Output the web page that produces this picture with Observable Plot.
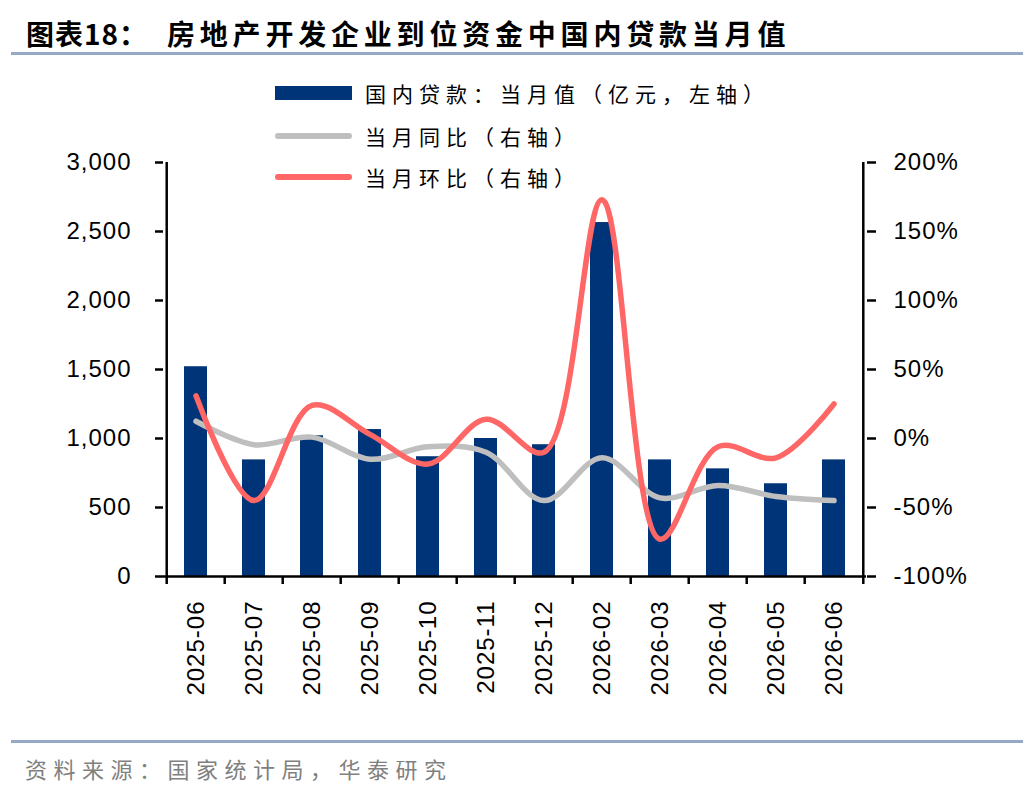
<!DOCTYPE html>
<html>
<head>
<meta charset="utf-8">
<script src="https://cdn.jsdelivr.net/npm/d3@7"></script>
<script src="https://cdn.jsdelivr.net/npm/@observablehq/plot@0.6"></script>
<style>
  html, body { margin: 0; padding: 0; background: #fff; }
  #page { position: relative; width: 1036px; height: 792px; overflow: hidden; background: #fff; }
  .abs { position: absolute; white-space: nowrap; }
  .title { font-family: "Noto Sans CJK SC", sans-serif; font-weight: 700; font-size: 28px; line-height: 28px; letter-spacing: 4.8px; color: #000; }
  .rule { position: absolute; left: 11px; width: 1012px; height: 3px; background: #93A9C5; }
  .legtext { font-family: "Noto Sans CJK SC", sans-serif; font-size: 21px; line-height: 21px; letter-spacing: 6px; color: #000; }
  .footer { font-family: "Noto Sans CJK SC", sans-serif; font-size: 22px; line-height: 22px; letter-spacing: 6.5px; color: #808080; }
  #chart { position: absolute; left: 0; top: 140px; }
  #chart svg text { letter-spacing: 1px; }
  #chart svg g[aria-label$="tick"] { stroke: #000 !important; stroke-width: 2.5px !important; stroke-opacity: 1 !important; }
</style>
</head>
<body>
<div id="page">
  <div class="abs title" style="left:26px; top:19px; letter-spacing:1px;">图表18：</div>
  <div class="abs title" style="left:167px; top:19px;">房地产开发企业到位资金中国内贷款当月值</div>
  <div class="rule" style="top:52px;"></div>

  <div id="chart"></div>

  <div class="abs" style="left:275px; top:86px; width:77px; height:14px; background:#003478;"></div>
  <div class="abs legtext" style="left:365px; top:83px;">国内贷款：当月值（亿元，左轴）</div>
  <div class="abs" style="left:275px; top:133px; width:77px; height:6px; border-radius:3px; background:#BFBFBF;"></div>
  <div class="abs legtext" style="left:365px; top:126px;">当月同比（右轴）</div>
  <div class="abs" style="left:275px; top:174px; width:77px; height:6px; border-radius:3px; background:#FF6666;"></div>
  <div class="abs legtext" style="left:365px; top:167px;">当月环比（右轴）</div>

  <div class="rule" style="top:740px;"></div>
  <div class="abs footer" style="left:25px; top:757px;">资料来源：国家统计局，华泰研究</div>
</div>
<script>
// ---- data ----
const months = ["2025-06","2025-07","2025-08","2025-09","2025-10","2025-11","2025-12","2026-02","2026-03","2026-04","2026-05","2026-06"];
const loans  = [1520, 845, 1020, 1065, 868, 1000, 955, 2565, 845, 780, 672, 845];   // 亿元
const yoy    = [12.5, -4.5, 1, -15, -6, -10, -45, -14, -43, -34, -42, -45];          // %
const mom    = [31, -45, 24, 3, -18.5, 14, -10, 173, -73, -6, -14, 25];              // %
const leftTicks  = [0, 500, 1000, 1500, 2000, 2500, 3000];
const rightTicks = [-100, -50, 0, 50, 100, 150, 200];

// right axis (-100%..200%) mapped onto left axis units (0..3000)
const toLeft = p => (p + 100) * 10;
const data = months.map((m, i) => ({month: m, loans: loans[i], yoy: toLeft(yoy[i]), mom: toLeft(mom[i])}));

const W = 1036, H = 600, mL = 163, mR = 170, mT = 22, mB = 164;
const step = (W - mL - mR) / months.length;
const font = "Arial, 'Liberation Sans', sans-serif";

const chart = Plot.plot({
  width: W, height: H,
  marginLeft: mL, marginRight: mR, marginTop: mT, marginBottom: mB,
  style: {fontFamily: font, fontSize: "24px", color: "#000", background: "transparent", overflow: "visible"},
  x: {domain: months, paddingInner: 0.6, paddingOuter: 0.3, label: null},
  y: {domain: [0, 3000], label: null},
  marks: [
    Plot.barY(data, {x: "month", y: "loans", fill: "#003478"}),
    Plot.line(data, {x: "month", y: "yoy", stroke: "#BFBFBF", strokeWidth: 5.5, curve: "catmull-rom", strokeLinecap: "round"}),
    Plot.line(data, {x: "month", y: "mom", stroke: "#FF6666", strokeWidth: 5.5, curve: "catmull-rom", strokeLinecap: "round"}),
    Plot.ruleY([0], {stroke: "#000", strokeWidth: 2.5}),
    Plot.ruleX([months[0]], {dx: -step / 2, y1: 0, y2: 3000, stroke: "#000", strokeWidth: 2.5}),
    Plot.ruleX([months[months.length - 1]], {dx: step / 2, y1: 0, y2: 3000, stroke: "#000", strokeWidth: 2.5}),
    Plot.axisY(leftTicks, {anchor: "left", tickSize: 8, tickPadding: 24, stroke: "#000", strokeWidth: 2.5, tickFormat: d3.format(","), label: null}),
    Plot.axisY(rightTicks.map(toLeft), {anchor: "right", tickSize: 9, tickPadding: 18, stroke: "#000", strokeWidth: 2.5, tickFormat: v => `${v / 10 - 100}%`, label: null}),
    Plot.axisX({tickSize: 0, tickRotate: -90, tickPadding: 24, label: null}),
    Plot.axisX({tickSize: 8, stroke: "#000", strokeWidth: 2.5, tickFormat: () => "", dx: -step / 2, label: null}),
    Plot.axisX([months[months.length - 1]], {tickSize: 8, stroke: "#000", strokeWidth: 2.5, tickFormat: () => "", dx: step / 2, label: null})
  ]
});
document.getElementById("chart").appendChild(chart);
</script>
</body>
</html>
